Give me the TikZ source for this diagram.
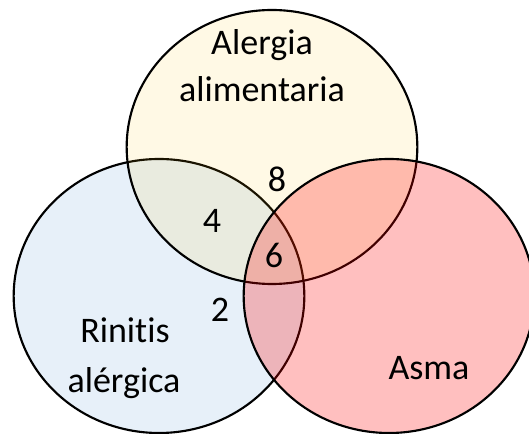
\documentclass[tikz,border=0pt]{standalone}
\usepackage{fontspec}
\setmainfont{Carlito}[Ligatures=NoCommon]
\usetikzlibrary{shapes.geometric}
\definecolor{setgold}{RGB}{255,192,0}
\definecolor{setblue}{RGB}{91,155,213}
\definecolor{setred}{RGB}{255,0,0}
\tikzset{
  vset/.style={ellipse, draw=black, line width=1.6pt, inner sep=0pt, outer sep=0pt,
    minimum width=218pt, minimum height=205.5pt},
  lbl/.style={anchor=base, inner sep=0pt, font=\fontsize{27}{32}\selectfont, text=black}
}
\begin{document}
\begin{tikzpicture}[x=0.75pt,y=-0.75pt]
\useasboundingbox (0,0) rectangle (529,434);
\node[vset, fill=setblue, fill opacity=0.15] (rin) at (159,296) {};
\node[vset, fill=setgold, fill opacity=0.10] (ali) at (272,147) {};
\node[vset, fill=setred, fill opacity=0.25] (asm) at (389,296) {};
\node[lbl] (t1) at (262,55) {Alergia};
\node[lbl] (t2) at (262,102) {alimentaria};
\node[lbl] (n8) at (277,191.5) {8};
\node[lbl] (n4) at (212,233) {4};
\node[lbl] (n6) at (274,268) {6};
\node[lbl] (n2) at (220,322) {2};
\node[lbl] (t3) at (125,343) {Rinitis};
\node[lbl] (t4) at (124,393) {alérgica};
\node[lbl] (t5) at (429,380) {Asma};
\end{tikzpicture}
\end{document}
